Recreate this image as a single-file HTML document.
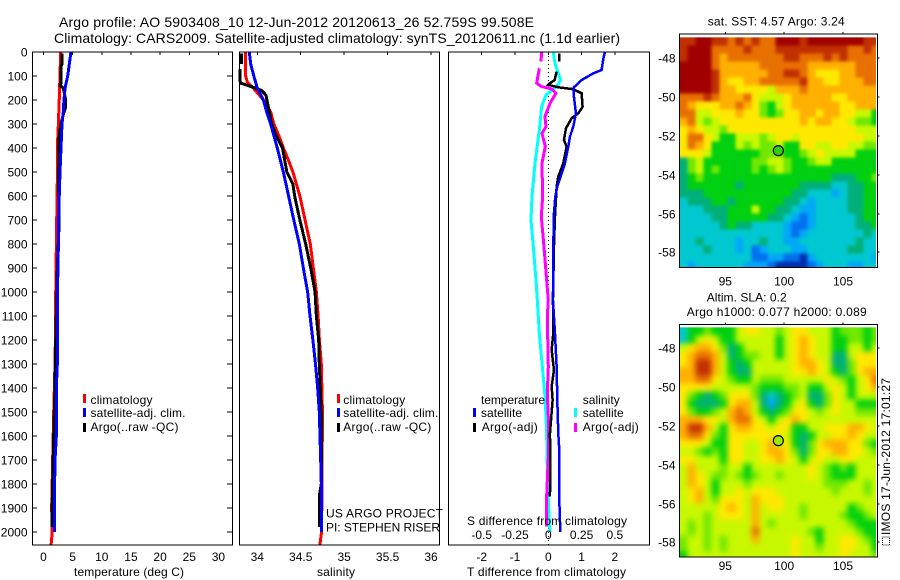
<!DOCTYPE html>
<html lang="en">
<head>
<meta charset="utf-8">
<title>Argo profile 5903408_10</title>
<style>
html,body{margin:0;padding:0;background:#fff;}
svg{display:block;}
text{font-family:"Liberation Sans",Arial,sans-serif;font-size:12px;fill:#000;}
.ttl{font-size:14px;}
</style>
</head>
<body>
<svg id="chart" xmlns="http://www.w3.org/2000/svg" width="900" height="580" viewBox="0 0 900 580">
<defs>
<filter id="blur-sst" x="-10%" y="-10%" width="120%" height="120%" color-interpolation-filters="sRGB"><feGaussianBlur stdDeviation="1.6"/></filter>
<filter id="blur-sla" x="-10%" y="-10%" width="120%" height="120%" color-interpolation-filters="sRGB"><feGaussianBlur stdDeviation="3"/></filter>
</defs>
<rect x="0" y="0" width="900" height="580" fill="#fff"/>
<text class="ttl" x="59" y="27" textLength="475" lengthAdjust="spacing">Argo profile: AO 5903408_10 12-Jun-2012 20120613_26 52.759S 99.508E</text>
<text class="ttl" x="54" y="43" textLength="566" lengthAdjust="spacing">Climatology: CARS2009. Satellite-adjusted climatology: synTS_20120611.nc (1.1d earlier)</text>

<g id="marks"></g>
<g id="maps"></g>
<g id="axes"></g>

<text x="74" y="576" textLength="110" lengthAdjust="spacing">temperature (deg C)</text>
<text x="317" y="576" textLength="38" lengthAdjust="spacing">salinity</text>
<text x="467" y="576" textLength="159" lengthAdjust="spacing">T difference from climatology</text>
<text x="467" y="525" textLength="160" lengthAdjust="spacing">S difference from climatology</text>

<g>
<rect x="83" y="394" width="3" height="9" fill="#f00"/>
<rect x="83" y="408" width="3" height="9" fill="#00f"/>
<rect x="83" y="423" width="3" height="9" fill="#000"/>
<text x="90.5" y="404" textLength="62" lengthAdjust="spacing">climatology</text>
<text x="90.5" y="417" textLength="95" lengthAdjust="spacing">satellite-adj. clim.</text>
<text x="90.5" y="431" textLength="88" lengthAdjust="spacing">Argo(..raw -QC)</text>
</g>
<g>
<rect x="337" y="394" width="3" height="9" fill="#f00"/>
<rect x="337" y="408" width="3" height="9" fill="#00f"/>
<rect x="337" y="423" width="3" height="9" fill="#000"/>
<text x="343.3" y="404" textLength="62" lengthAdjust="spacing">climatology</text>
<text x="343.3" y="417" textLength="95" lengthAdjust="spacing">satellite-adj. clim.</text>
<text x="343.3" y="431" textLength="88" lengthAdjust="spacing">Argo(..raw -QC)</text>
<text x="326" y="517.5" textLength="117" lengthAdjust="spacing">US ARGO PROJECT</text>
<text x="326" y="531.5" textLength="114" lengthAdjust="spacing">PI: STEPHEN RISER</text>
</g>
<g>
<text x="481" y="404" textLength="64" lengthAdjust="spacing">temperature</text>
<text x="582.7" y="404" textLength="37" lengthAdjust="spacing">salinity</text>
<rect x="473" y="408" width="3" height="9" fill="#00f"/>
<rect x="473" y="423" width="3" height="9" fill="#000"/>
<rect x="574" y="408" width="3" height="9" fill="#0ff"/>
<rect x="574" y="423" width="3" height="9" fill="#f0f"/>
<text x="481" y="417" textLength="41" lengthAdjust="spacing">satellite</text>
<text x="481.7" y="431" textLength="56" lengthAdjust="spacing">Argo(-adj)</text>
<text x="582.7" y="417" textLength="41" lengthAdjust="spacing">satellite</text>
<text x="582.7" y="431" textLength="56" lengthAdjust="spacing">Argo(-adj)</text>
</g>

<text x="707.7" y="25.7" textLength="137" lengthAdjust="spacing">sat. SST: 4.57  Argo: 3.24</text>
<text x="706.7" y="301.7" textLength="80" lengthAdjust="spacing">Altim. SLA: 0.2</text>
<text x="686.7" y="316" textLength="180" lengthAdjust="spacing">Argo h1000: 0.077 h2000: 0.089</text>
<text transform="translate(890,535) rotate(-90)" textLength="157" lengthAdjust="spacing">IMOS 17-Jun-2012 17:01:27</text>
<rect x="882.5" y="537" width="7" height="8" fill="none" stroke="#000" stroke-width="1" stroke-dasharray="1 1"/>
</svg>

<script>
// ---- depth axis ----
const depthTicks = [0,100,200,300,400,500,600,700,800,900,1000,1100,1200,1300,1400,1500,1600,1700,1800,1900,2000];
const tempTicks = [0,5,10,15,20,25,30];
const salTicks = [34,34.5,35,35.5,36];
const salTickLabels = ['34','34.5','35','35.5','36'];
const tDiffTicks = [-2,-1,0,1,2];
const sDiffTicks = [-0.5,-0.25,0,0.25,0.5];
const sDiffTickLabels = ['-0.5','-0.25','0','0.25','0.5'];

// ---- temperature profiles ----
const tempClimDepth = [0,200,300,400,500,600,700,1000,1100,1300,1500,1700,1900,2000,2054];
const tempClimValue = [2.95,2.7,2.55,2.37,2.37,2.35,2.26,2.1,2.1,1.97,1.75,1.57,1.4,1.5,1.3];
const tempSatDepth = [0,50,100,150,200,250,300,400,500,600,700,800,900,1000,1300,1400,1600,1700,1900,2000];
const tempSatValue = [4.7,4.43,4.15,3.7,3.5,3.4,3.17,3.0,2.83,2.7,2.6,2.55,2.49,2.37,2.37,2.2,2.2,1.97,1.85,1.85];
const tempArgoDepth = [7,50,60,130,140,150,200,230,250,300,350,400,450,500,700,900,1200,1400,1600,1800,1900,1980];
const tempArgoValue = [3.2,3.2,3.0,3.0,2.85,3.4,3.8,3.8,3.5,3.0,2.7,2.6,2.7,2.55,2.7,2.37,2.1,1.97,1.75,1.57,1.45,1.45];

// ---- salinity profiles ----
const salClimDepth = [0,100,125,150,200,250,300,350,400,450,500,550,600,650,700,800,900,1000,1100,1200,1300,1500,1800,2000,2054];
const salClimValue = [33.866,33.866,33.885,33.954,34.07,34.154,34.19,34.25,34.3,34.357,34.41,34.45,34.49,34.52,34.55,34.61,34.645,34.68,34.7,34.715,34.737,34.75,34.745,34.74,34.72];
const salSatDepth = [0,50,100,150,200,250,300,400,500,600,700,800,900,1000,1100,1200,1300,1400,1500,1700,1800,2000];
const salSatValue = [33.908,33.924,33.96,34.0,34.07,34.108,34.154,34.23,34.3,34.36,34.42,34.484,34.53,34.58,34.607,34.64,34.67,34.695,34.714,34.73,34.737,34.74];
const salArgoDepth = [7,50,60,70,120,130,140,150,160,180,250,300,350,400,500,550,600,700,800,900,1000,1100,1200,1300,1400,1500,1800,1850,1980];
const salArgoValue = [33.82,33.82,NaN,33.8,33.8,33.81,33.896,33.97,34.05,34.1,34.138,34.166,34.22,34.29,34.34,34.41,34.43,34.49,34.557,34.615,34.665,34.68,34.707,34.714,34.725,34.737,34.737,34.714,34.714];

// ---- T difference profiles ----
const dTSatDepth = [0,30,75,89,117,147,186,256,311,353,394,464,519,561,603,672,811,1033,1172,1311,1450,1589,1658,1866,1950,2000];
const dTSatValue = [1.7,1.65,1.6,1.35,1.0,0.77,0.77,0.83,0.75,0.65,0.6,0.5,0.37,0.27,0.21,0.17,0.15,0.14,0.2,0.25,0.27,0.3,0.33,0.33,0.35,0.36];
const dTArgoDepth = [6,40,60,82,117,130,137,147,155,172,228,256,276,318,367,394,464,519,561,686,811,1033,1172,1241,1325,1394,1450,1519,1589,1727,1852];
const dTArgoValue = [0.33,0.33,NaN,0.25,0.19,0.05,0,0.3,0.75,1.0,1.03,0.9,0.7,0.53,0.47,0.55,0.45,0.3,0.25,0.2,0.17,0.14,0.15,0.1,0.17,0.1,0.13,0.09,0.05,0.06,0.05];

// ---- S difference profiles ----
const dSSatDepth = [0,47,117,144,179,228,325,464,603,700,811,950,1033,1172,1311,1450,1589,1727,1866,2000];
const dSSatValue = [0.0375,0.05,0.0925,0.0625,-0.0175,-0.05,-0.0675,-0.1,-0.1225,-0.13,-0.1125,-0.0925,-0.0825,-0.0675,-0.045,-0.0225,-0.0125,-0.0075,0,0.0125];
const dSArgoDepth = [0,40,55,68,130,144,154,172,214,269,311,339,394,464,603,686,811,950,1033,1102,1172,1311,1422,1519,1658,1852,1977];
const dSArgoValue = [-0.05,-0.055,NaN,-0.0675,-0.0875,-0.05,0.025,0.0575,0.0125,-0.025,-0.0175,-0.0475,-0.0225,-0.0475,-0.0425,-0.0525,-0.0325,-0.0125,0,-0.0075,-0.005,0,-0.0075,0,0.0025,-0.0125,-0.0125];

// ---- map axes ----
const lonTicks = [95,100,105];
const latTicks = [-48,-50,-52,-54,-56,-58];
const floatLon = 99.508;
const floatLat = -52.759;

// ---- SST map values (colour level by grid cell) ----
const sstGrid = [
[11,11,12,12,11,11,10,11,10,11,10,10,12,12,12,11,12,12,12,12,12,12,12,11,11],
[11,12,12,12,10,10,10,10,11,10,10,10,11,11,11,11,11,11,11,11,11,10,10,11,10],
[11,12,12,12,10,9,10,10,10,10,10,10,10,11,11,10,10,10,11,10,11,10,10,10,10],
[12,12,12,12,10,9,9,9,9,9,10,10,10,10,10,10,9,9,9,9,9,9,10,10,10],
[12,12,12,12,11,9,9,9,9,9,9,10,10,11,11,10,9,8,8,8,9,9,10,10,10],
[12,12,12,12,11,9,8,8,9,9,10,10,10,10,10,11,9,9,8,8,9,9,9,10,10],
[12,12,12,12,11,9,9,8,8,8,8,7,9,9,9,10,9,9,9,9,9,9,9,9,9],
[10,10,10,11,10,9,9,9,10,8,7,7,7,8,9,9,9,9,9,8,8,9,9,9,9],
[10,9,8,8,8,9,9,10,9,8,6,5,7,8,9,9,9,9,9,9,8,8,9,9,9],
[10,10,7,7,8,8,8,9,8,8,6,5,6,8,8,9,9,8,9,9,8,8,7,7,5],
[9,10,7,6,7,8,8,8,8,8,8,8,8,8,8,9,8,9,9,8,8,7,6,6,5],
[8,9,8,7,7,6,8,8,8,8,8,8,8,8,8,8,8,8,8,8,8,8,7,7,7],
[8,10,10,8,7,5,5,7,7,7,6,7,8,8,7,8,8,8,8,8,8,8,8,7,7],
[8,10,9,8,5,5,5,7,6,7,6,6,7,5,5,8,8,7,7,8,8,7,7,6,6],
[8,8,8,7,5,5,5,5,5,5,6,6,6,5,5,6,7,8,7,7,7,7,5,5,5],
[4,6,7,5,5,5,5,5,5,6,6,7,7,6,5,5,6,7,7,5,5,5,5,5,5],
[4,6,7,5,6,5,5,5,5,6,5,6,7,6,5,5,5,5,5,5,5,5,5,5,5],
[4,5,6,5,5,5,5,5,5,5,5,5,5,5,5,5,5,5,5,4,4,4,5,5,6],
[4,5,5,5,5,5,5,4,5,5,5,5,5,5,5,4,4,4,4,3,3,4,4,5,5],
[4,4,4,5,5,5,5,5,5,5,5,5,5,5,4,4,3,3,3,2,3,4,4,5,5],
[3,4,4,4,5,5,4,5,5,5,5,5,5,4,4,3,2,3,3,3,3,4,4,5,5],
[3,3,3,4,4,4,5,5,5,7,5,5,4,4,3,2,2,3,3,3,3,4,4,5,5],
[3,3,3,3,4,4,5,5,5,5,5,4,4,3,2,1,2,3,3,3,3,3,4,5,5],
[3,3,3,3,3,4,5,4,4,3,3,3,3,2,1,1,2,3,3,3,3,3,4,4,5],
[3,3,3,3,3,3,3,3,3,3,3,3,3,2,1,2,3,3,3,3,3,3,3,4,3],
[3,3,4,3,3,3,3,2,3,3,4,3,3,2,2,3,3,3,3,3,3,3,4,3,3],
[3,3,3,4,3,3,3,2,3,1,2,3,3,3,2,2,3,3,3,3,3,4,4,3,3],
[3,3,3,3,3,3,3,3,3,1,1,2,2,1,1,0,2,3,3,3,3,3,3,3,2],
[3,2,3,3,3,3,3,3,2,2,2,1,0,0,0,0,1,2,3,3,3,2,2,3,3]
];

// ---- SLA map values (colour level by grid cell) ----
const slaGrid = [
[3,5,5,6,5,5,5,7,8,8,7,7,6,7,8,8,7,7,7,5,6,6,6,5,6],
[3,5,7,8,7,5,5,7,7,7,7,7,5,7,8,9,8,7,7,5,5,6,6,5,6],
[7,8,9,9,8,6,4,5,7,7,7,7,5,7,8,9,8,7,7,5,5,7,7,5,7],
[8,9,10,10,9,7,4,5,6,6,7,7,5,7,8,9,8,7,7,4,4,7,8,8,8],
[8,9,11,11,9,7,5,4,5,7,7,7,7,7,8,9,9,8,7,4,4,6,8,8,8],
[9,9,11,11,9,7,5,4,4,7,7,7,7,7,8,8,9,8,7,5,4,6,8,9,9],
[9,9,10,10,8,7,6,5,5,7,6,6,6,7,7,7,7,7,8,7,6,5,7,8,10],
[8,8,8,8,7,7,7,7,7,6,5,5,5,6,6,7,5,5,7,8,7,5,7,8,9],
[8,6,5,4,5,6,8,8,8,6,4,3,4,5,6,7,4,4,6,8,7,5,7,7,7],
[8,5,4,4,4,5,8,9,9,7,4,2,4,5,7,8,5,4,6,8,7,7,5,5,5],
[8,6,5,5,6,7,9,10,9,7,5,4,5,6,8,8,7,6,7,8,7,7,6,6,6],
[9,9,9,8,8,7,9,10,10,8,7,5,7,8,9,8,7,7,7,7,7,7,7,7,7],
[9,11,11,9,7,5,8,9,9,8,8,7,8,8,5,5,7,7,8,8,8,9,9,8,7],
[9,10,10,8,6,5,8,8,8,8,8,8,8,7,5,4,5,7,7,8,8,9,8,7,7],
[8,8,8,7,5,5,8,8,7,7,8,9,7,8,5,4,6,8,9,9,9,8,8,6,5],
[7,7,6,5,6,5,8,8,7,7,8,9,9,8,6,4,6,8,8,9,9,8,8,7,6],
[8,8,7,7,7,5,8,8,7,7,8,8,9,8,7,5,7,8,7,7,8,8,7,7,7],
[7,9,7,7,7,6,7,7,5,7,7,7,7,7,7,7,8,7,6,5,6,5,7,7,7],
[7,9,8,7,6,6,7,6,5,6,7,7,6,7,7,7,8,7,6,5,5,5,7,7,7],
[7,9,8,7,5,7,7,7,6,7,7,7,7,7,7,7,7,7,6,6,6,7,7,6,7],
[7,8,9,7,5,7,7,8,7,8,8,8,7,7,7,7,7,7,7,6,7,7,7,6,7],
[7,8,9,7,6,8,8,8,7,9,8,8,8,7,7,7,7,7,7,7,7,7,7,7,7],
[7,7,7,7,7,8,9,8,7,9,7,8,8,7,7,6,7,7,7,7,7,5,6,7,7],
[7,7,7,6,7,8,8,8,7,9,7,7,7,7,7,6,7,7,7,7,6,5,5,6,7],
[7,6,7,6,7,7,7,7,7,9,7,6,7,7,7,7,7,7,7,7,7,6,5,5,5],
[7,6,7,6,7,7,7,7,7,10,7,7,7,7,7,7,6,5,7,7,7,7,6,5,5],
[6,7,7,6,7,6,7,7,7,9,7,7,7,7,8,7,7,5,7,7,8,8,7,6,5],
[6,7,7,6,7,6,7,7,7,7,7,7,7,7,8,7,7,6,7,7,8,8,7,7,5],
[5,7,7,7,7,7,7,7,7,7,7,7,7,7,8,7,7,7,7,7,8,7,7,7,6]
];

const levelColors = ['#0030b0','#0070f0','#00a8f8','#00c8d0','#00b078','#00d010','#70e800','#c8f800','#ffe800','#ffb000','#e87000','#c03000','#a00000'];

const NS = 'http://www.w3.org/2000/svg';
const marksLayer = document.getElementById('marks');
const mapsLayer = document.getElementById('maps');
const axesLayer = document.getElementById('axes');

function mk(tag, attrs, parent){
  const el = document.createElementNS(NS, tag);
  for (const k in attrs) el.setAttribute(k, attrs[k]);
  parent.appendChild(el);
  return el;
}

// axis functions
const yDepth = d => 52 + d * 0.24;
const xTemp = t => 43.5 + 5.83 * t;
const xSal = s => 257.3 + 86.85 * (s - 34);
const xDT = t => 548.3 + 33.3 * t;
const xDS = s => 548.3 + 133.2 * s;
const xLon = lon => 725.3 + 11.77 * (lon - 95);
const yLat1 = lat => 58.3 + 19.4 * (-48 - lat);
const yLat2 = lat => 348.3 + 19.4 * (-48 - lat);

function linePath(xs, depths, xFn){
  let d = '', pen = false;
  for (let i = 0; i < xs.length; i++) {
    if (Number.isNaN(xs[i])) { pen = false; continue; }
    d += (pen ? 'L' : 'M') + xFn(xs[i]).toFixed(2) + ' ' + yDepth(depths[i]).toFixed(2);
    pen = true;
  }
  return d;
}

function drawLine(name, xs, depths, xFn, color, width){
  const el = mk('path', {d: linePath(xs, depths, xFn), fill: 'none', stroke: color, 'stroke-width': width, 'shape-rendering': 'crispEdges'}, marksLayer);
  
  
}

// zero line in the difference panel
const zeroLine = mk('line', {x1: xDT(0), x2: xDT(0), y1: yDepth(0), y2: 545, stroke: '#000', 'stroke-width': 1, 'stroke-dasharray': '1 3', 'shape-rendering': 'crispEdges'}, marksLayer);



drawLine('temperature-climatology-line', tempClimValue, tempClimDepth, xTemp, '#f00', 3);
drawLine('temperature-argo-line', tempArgoValue, tempArgoDepth, xTemp, '#000', 3);
drawLine('temperature-satellite-line', tempSatValue, tempSatDepth, xTemp, '#00f', 3);

drawLine('salinity-climatology-line', salClimValue, salClimDepth, xSal, '#f00', 3);
drawLine('salinity-argo-line', salArgoValue, salArgoDepth, xSal, '#000', 3);
drawLine('salinity-satellite-line', salSatValue, salSatDepth, xSal, '#00f', 3);

drawLine('s-difference-satellite-line', dSSatValue, dSSatDepth, xDS, '#0ff', 3);
drawLine('s-difference-argo-line', dSArgoValue, dSArgoDepth, xDS, '#f0f', 3);
drawLine('t-difference-argo-line', dTArgoValue, dTArgoDepth, xDT, '#000', 2.5);
drawLine('t-difference-satellite-line', dTSatValue, dTSatDepth, xDT, '#00f', 2.5);

// Panels and axes
function seg(name, x1, y1, x2, y2){
  const el = mk('line', {x1: x1, y1: y1, x2: x2, y2: y2, stroke: '#000', 'stroke-width': 1, 'shape-rendering': 'crispEdges'}, axesLayer);
  
  
}
function label(name, str, x, y, anchor){
  const el = mk('text', {x: x, y: y, 'text-anchor': anchor}, axesLayer);
  
  
  el.textContent = str;
}
function frame(name, x0, y0, x1, y1){
  const el = mk('rect', {x: x0, y: y0, width: x1 - x0, height: y1 - y0, fill: 'none', stroke: '#000', 'stroke-width': 1, 'shape-rendering': 'crispEdges'}, axesLayer);
  
  
}

frame('temperature-panel-frame', 32.5, 52, 232.5, 545);
frame('salinity-panel-frame', 239.5, 52, 439.5, 545);
frame('difference-panel-frame', 448.5, 52, 649.5, 545);

depthTicks.forEach(d => {
  const y = Math.round(yDepth(d));
  seg('depth-tick-left', 32, y, 37, y);
  seg('depth-tick-right', 227, y, 232, y);
  label('depth-tick-label', String(d), 27.5, y + 4.5, 'end');
});
tempTicks.forEach(t => {
  seg('temperature-tick', xTemp(t), 52, xTemp(t), 55);
  label('temperature-tick-label', String(t), xTemp(t), 561, 'middle');
});
salTicks.forEach((s, i) => {
  seg('salinity-tick', xSal(s), 52, xSal(s), 55);
  label('salinity-tick-label', salTickLabels[i], xSal(s), 561, 'middle');
});
tDiffTicks.forEach(t => {
  seg('t-difference-tick', xDT(t), 52, xDT(t), 55);
  label('t-difference-tick-label', String(t), xDT(t), 561, 'middle');
});
sDiffTicks.forEach((s, i) => {
  label('s-difference-tick-label', sDiffTickLabels[i], xDS(s), 539, 'middle');
});

// Maps
const lonStart = 91.09;
const latStart = -46.92;
const cellLon = 8 / 11.77;
const cellLat = 8 / 19.4;

function drawMap(name, grid, yLat, top, bottom, imgBottom, dotColor, clipId, blurId){
  const clip = mk('clipPath', {id: clipId}, mapsLayer);
  mk('rect', {x: xLon(lonStart), y: yLat(latStart), width: xLon(107.8) - xLon(lonStart), height: imgBottom - yLat(latStart)}, clip);
  const outer = mk('g', {'clip-path': 'url(#' + clipId + ')'}, mapsLayer);
  
  
  const g = mk('g', {filter: 'url(#' + blurId + ')', 'shape-rendering': 'crispEdges'}, outer);
  
  
  const lastRow = grid.length - 1;
  grid.forEach((row, r) => {
    const lastCol = row.length - 1;
    row.forEach((v, c) => {
      const lon = lonStart + c * cellLon;
      const lat = latStart - r * cellLat;
      // border cells overhang the clip so the blur does not fade to white at the edge
      const padL = c === 0 ? 12 : 0;
      const padR = c === lastCol ? 12 : 0;
      const padT = r === 0 ? 12 : 0;
      const padB = r === lastRow ? 12 : 0;
      const cell = mk('rect', {x: xLon(lon) - padL, y: yLat(lat) - padT, width: 8.2 + padL + padR, height: 8.2 + padT + padB, fill: levelColors[v]}, g);
      
      
    });
  });
  frame(name + '-frame', 679.5, top, 877.5, bottom);
  lonTicks.forEach(lon => {
    seg(name + '-lon-tick', xLon(lon), top - 2, xLon(lon), top);
    label(name + '-lon-label', String(lon), xLon(lon), bottom + (name === 'sst-map' ? 18 : 13), 'middle');
  });
  latTicks.forEach(lat => {
    const y = Math.round(yLat(lat));
    seg(name + '-lat-tick', 877.5, y, 879.5, y);
    label(name + '-lat-label', String(lat), 675.5, y + 4.5, 'end');
  });
  const dot = mk('circle', {cx: xLon(floatLon), cy: yLat(floatLat), r: 5, fill: dotColor, stroke: '#000', 'stroke-width': 1.2}, axesLayer);
  
  
}

drawMap('sst-map', sstGrid, yLat1, 34, 267.5, 267, '#30d010', 'clip-sst', 'blur-sst');
drawMap('sla-map', slaGrid, yLat2, 324.5, 557, 556.5, '#a0e800', 'clip-sla', 'blur-sla');
</script>
</body>
</html>
